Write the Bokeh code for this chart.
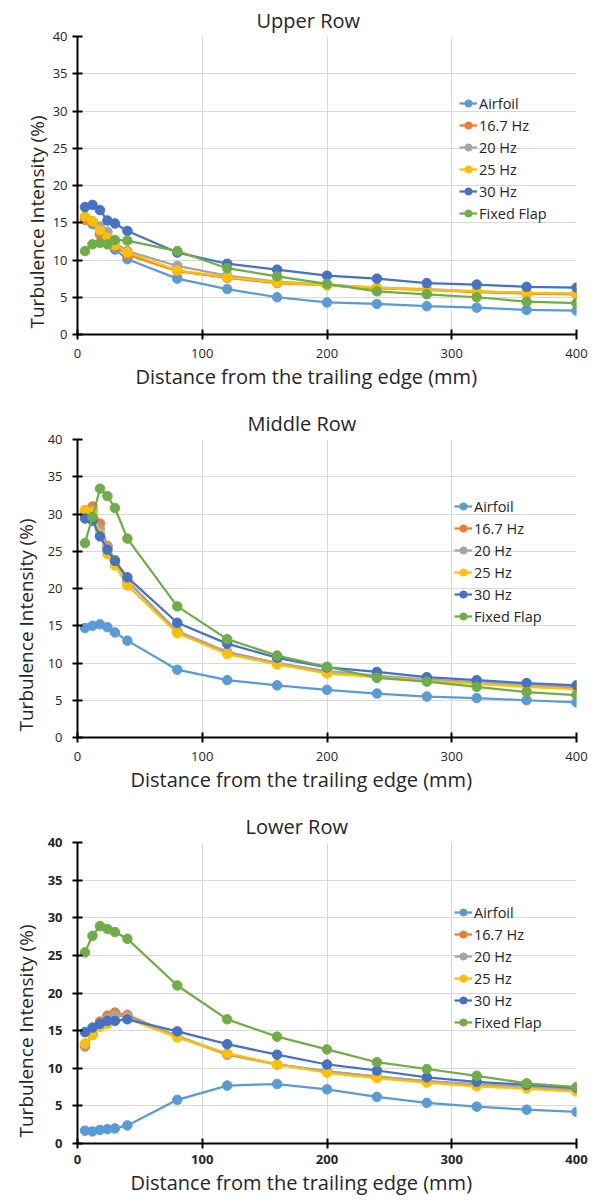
from bokeh.plotting import figure
from bokeh.layouts import column
from bokeh.models import FixedTicker, Title
from bokeh.embed import file_html
from bokeh.resources import INLINE

# ---------------- data ----------------
distance_mm = [6, 12, 18, 24, 30, 40, 80, 120, 160, 200, 240, 280, 320, 360, 400]
series_names = ["Airfoil", "16.7 Hz", "20 Hz", "25 Hz", "30 Hz", "Fixed Flap"]
series_colors = ["#5B9BD5", "#ED7D31", "#A5A5A5", "#FFC000", "#4472C4", "#70AD47"]

upper_airfoil = [15.5, 14.8, 13.4, 12.2, 11.4, 10.1, 7.5, 6.1, 5.0, 4.3, 4.1, 3.8, 3.6, 3.3, 3.2]
upper_16_7hz = [15.4, 15.0, 13.6, 12.8, 11.8, 10.7, 8.5, 7.6, 6.9, 6.6, 6.2, 6.0, 5.7, 5.5, 5.4]
upper_20hz = [15.8, 15.2, 14.5, 13.8, 12.3, 11.2, 9.2, 7.9, 7.1, 6.7, 6.3, 6.1, 5.8, 5.6, 5.5]
upper_25hz = [15.9, 15.2, 14.0, 13.0, 12.0, 11.0, 8.6, 7.7, 7.0, 6.6, 6.3, 6.0, 5.8, 5.6, 5.5]
upper_30hz = [17.1, 17.4, 16.7, 15.3, 14.9, 13.9, 11.0, 9.5, 8.7, 7.9, 7.5, 6.9, 6.7, 6.4, 6.3]
upper_fixed = [11.2, 12.1, 12.3, 12.1, 12.7, 12.6, 11.2, 8.9, 7.8, 6.8, 5.8, 5.4, 5.0, 4.4, 4.2]

middle_airfoil = [14.7, 15.0, 15.2, 14.8, 14.1, 13.0, 9.1, 7.7, 7.0, 6.4, 5.9, 5.5, 5.3, 5.0, 4.7]
middle_16_7hz = [30.5, 31.0, 28.7, 25.7, 23.8, 21.0, 14.2, 11.4, 10.0, 8.8, 8.2, 7.7, 7.3, 7.0, 6.7]
middle_20hz = [30.0, 30.5, 28.0, 25.5, 23.8, 21.0, 14.3, 11.5, 10.0, 8.9, 8.3, 7.8, 7.4, 7.1, 6.9]
middle_25hz = [30.5, 30.2, 27.3, 24.6, 23.1, 20.4, 14.0, 11.2, 9.8, 8.6, 8.1, 7.6, 7.2, 6.8, 6.5]
middle_30hz = [29.4, 29.1, 27.0, 25.2, 23.7, 21.5, 15.4, 12.6, 10.7, 9.4, 8.8, 8.1, 7.7, 7.3, 7.0]
middle_fixed = [26.1, 29.6, 33.4, 32.4, 30.8, 26.7, 17.6, 13.2, 11.0, 9.5, 8.0, 7.5, 6.8, 6.1, 5.7]

lower_airfoil = [1.7, 1.6, 1.8, 1.9, 2.0, 2.4, 5.8, 7.7, 7.9, 7.2, 6.2, 5.4, 4.9, 4.5, 4.2]
lower_16_7hz = [12.9, 14.5, 16.2, 17.0, 17.4, 17.1, 14.2, 11.8, 10.5, 9.6, 8.9, 8.3, 7.8, 7.5, 7.1]
lower_20hz = [13.1, 14.6, 15.9, 16.6, 17.0, 16.9, 14.3, 11.9, 10.5, 9.6, 8.9, 8.3, 7.9, 7.5, 7.2]
lower_25hz = [13.3, 14.4, 15.5, 15.9, 16.3, 16.6, 14.1, 12.0, 10.5, 9.4, 8.7, 8.1, 7.6, 7.3, 6.9]
lower_30hz = [14.8, 15.4, 15.9, 16.3, 16.3, 16.5, 14.9, 13.2, 11.8, 10.5, 9.7, 8.8, 8.2, 7.8, 7.4]
lower_fixed = [25.4, 27.6, 28.9, 28.5, 28.1, 27.2, 21.0, 16.5, 14.2, 12.5, 10.8, 9.9, 9.0, 8.0, 7.5]

x_ticks = [0, 100, 200, 300, 400]
y_ticks = [0, 5, 10, 15, 20, 25, 30, 35, 40]
x_title = "Distance from the trailing edge (mm)"
y_title = "Turbulence Intensity (%)"

FONT = "Open Sans"
TEXT_COLOR = "#262626"


def make_panel(title, series, height, left, right, bottom, title_off, xlab_off,
               ylab_standoff, x_label_standoff, y_label_standoff, bold_ticks=False):
    p = figure(width=592, height=height, output_backend="svg", toolbar_location=None,
               x_range=(0, 400), y_range=(0, 40),
               min_border_left=left, min_border_right=right, min_border_top=36,
               min_border_bottom=bottom)
    p.title.text = title
    p.title.align = "left"
    p.title.offset = title_off
    p.title.standoff = 6
    p.title.text_font = FONT
    p.title.text_font_size = "20px"
    p.title.text_font_style = "normal"
    p.title.text_color = TEXT_COLOR
    p.outline_line_color = None
    p.background_fill_color = "white"

    for ys, name, col in zip(series, series_names, series_colors):
        p.line(distance_mm, ys, line_color=col, line_width=2.25, legend_label=name)
        p.scatter(distance_mm, ys, size=9.5, fill_color=col, line_color=col, legend_label=name)

    p.xaxis.ticker = FixedTicker(ticks=x_ticks)
    p.yaxis.ticker = FixedTicker(ticks=y_ticks)
    for ax in (p.xaxis[0], p.yaxis[0]):
        ax.axis_line_color = "black"
        ax.axis_line_width = 2
        ax.major_tick_line_color = "black"
        ax.major_tick_line_width = 2
        ax.major_tick_in = 5
        ax.major_tick_out = 5
        ax.minor_tick_line_color = None
        ax.major_label_text_font = FONT
        ax.major_label_text_font_size = "13px"
        ax.major_label_text_color = TEXT_COLOR
        ax.major_label_text_font_style = "bold" if bold_ticks else "normal"
    p.xaxis[0].major_label_standoff = x_label_standoff
    p.yaxis[0].major_label_standoff = y_label_standoff

    xt = Title(text=x_title, align="left", offset=xlab_off, standoff=0,
               text_font=FONT, text_font_size="20px", text_font_style="normal",
               text_color=TEXT_COLOR)
    p.add_layout(xt, "below")
    yt = Title(text=y_title, align="left", offset=6, standoff=ylab_standoff,
               text_font=FONT, text_font_size="19px", text_font_style="normal",
               text_color=TEXT_COLOR)
    p.add_layout(yt, "left")

    p.xgrid.grid_line_color = "#D9D9D9"
    p.ygrid.grid_line_color = "#D9D9D9"

    lg = p.legend[0]
    lg.location = (454 - left, 110)
    lg.border_line_color = None
    lg.background_fill_alpha = 0
    lg.padding = 0
    lg.spacing = 0
    lg.margin = 0
    lg.glyph_width = 18
    lg.glyph_height = 22
    lg.label_height = 22
    lg.label_standoff = 2
    lg.label_text_font = FONT
    lg.label_text_font_size = "14.5px"
    lg.label_text_color = TEXT_COLOR
    return p


upper = make_panel("Upper Row",
                   [upper_airfoil, upper_16_7hz, upper_20hz, upper_25hz, upper_30hz, upper_fixed],
                   403, 72, 16, 69, 179, 58, 0, 9, 5)
middle = make_panel("Middle Row",
                    [middle_airfoil, middle_16_7hz, middle_20hz, middle_25hz, middle_30hz, middle_fixed],
                    403, 77, 12, 69, 170, 53, 12, 9, 10)
lower = make_panel("Lower Row",
                   [lower_airfoil, lower_16_7hz, lower_20hz, lower_25hz, lower_30hz, lower_fixed],
                   394, 77, 12, 57, 168, 53, 12, 6, 10, bold_ticks=True)

layout = column(upper, middle, lower, spacing=0)
open("out.html", "w").write(file_html(layout, INLINE))
